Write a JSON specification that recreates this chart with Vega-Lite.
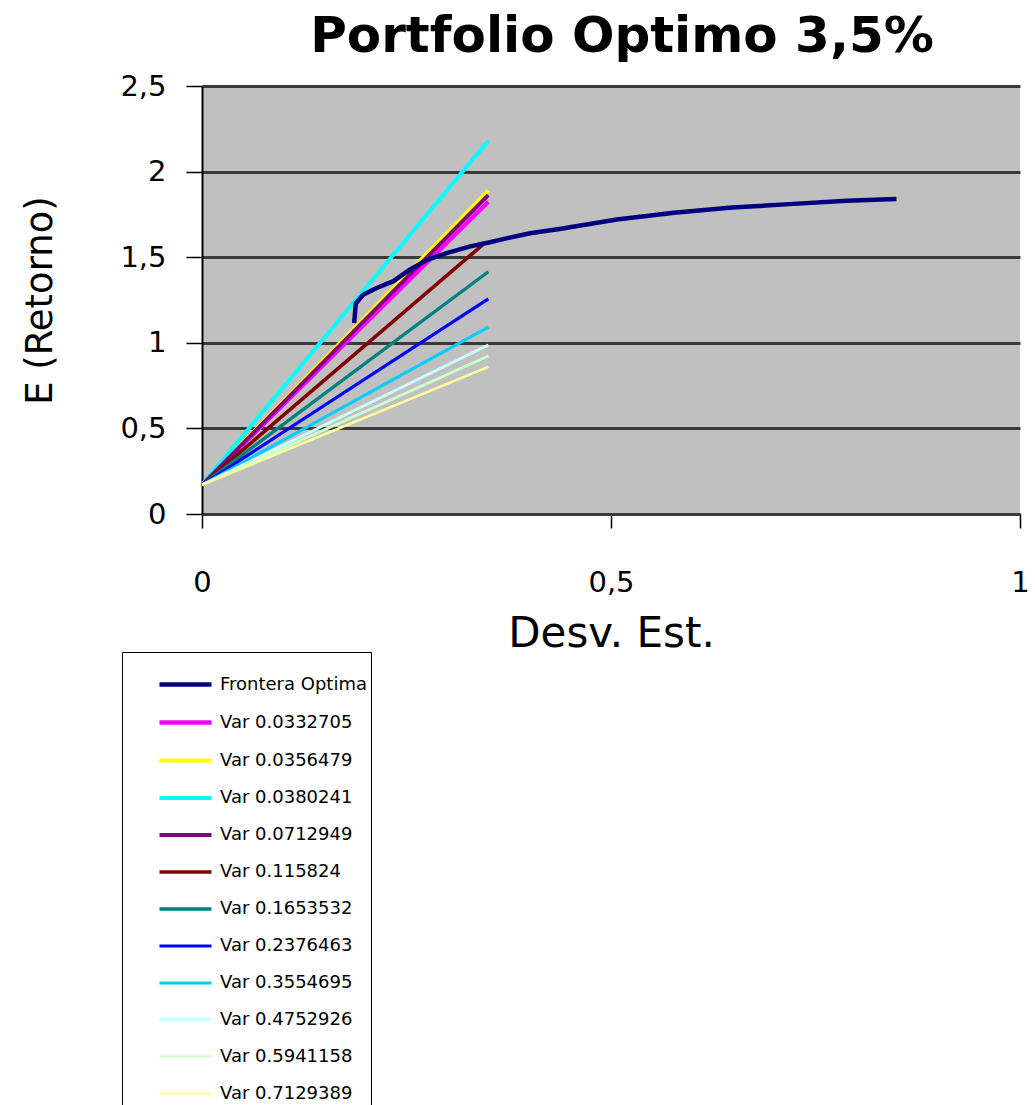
{
  "$schema": "https://vega.github.io/schema/vega-lite/v6.json",
  "width": 818,
  "height": 428,
  "autosize": {"type": "none"},
  "padding": {"left": 202, "top": 86, "right": 15, "bottom": 591},
  "background": "white",
  "title": {"text": "Portfolio Optimo 3,5%", "font": "DejaVu Sans", "fontSize": 50, "fontWeight": "bold", "color": "black", "offset": 10, "anchor": "middle", "dx": 11},
  "data": {"values": [
    {"series": "Var 0.0332705", "x": 0, "y": 0.17}, {"series": "Var 0.0332705", "x": 0.35, "y": 1.824},
    {"series": "Var 0.0356479", "x": 0, "y": 0.17}, {"series": "Var 0.0356479", "x": 0.35, "y": 1.889},
    {"series": "Var 0.0380241", "x": 0, "y": 0.17}, {"series": "Var 0.0380241", "x": 0.35, "y": 2.181},
    {"series": "Var 0.0712949", "x": 0, "y": 0.17}, {"series": "Var 0.0712949", "x": 0.35, "y": 1.863},
    {"series": "Var 0.115824", "x": 0, "y": 0.17}, {"series": "Var 0.115824", "x": 0.345, "y": 1.58},
    {"series": "Var 0.1653532", "x": 0, "y": 0.17}, {"series": "Var 0.1653532", "x": 0.35, "y": 1.415},
    {"series": "Var 0.2376463", "x": 0, "y": 0.17}, {"series": "Var 0.2376463", "x": 0.35, "y": 1.256},
    {"series": "Var 0.3554695", "x": 0, "y": 0.17}, {"series": "Var 0.3554695", "x": 0.35, "y": 1.092},
    {"series": "Var 0.4752926", "x": 0, "y": 0.17}, {"series": "Var 0.4752926", "x": 0.35, "y": 0.987},
    {"series": "Var 0.5941158", "x": 0, "y": 0.17}, {"series": "Var 0.5941158", "x": 0.35, "y": 0.923},
    {"series": "Var 0.7129389", "x": 0, "y": 0.17}, {"series": "Var 0.7129389", "x": 0.35, "y": 0.859},
    {"series": "Frontera Optima", "x": 0.186, "y": 1.115},
    {"series": "Frontera Optima", "x": 0.187, "y": 1.17},
    {"series": "Frontera Optima", "x": 0.188, "y": 1.23},
    {"series": "Frontera Optima", "x": 0.197, "y": 1.28},
    {"series": "Frontera Optima", "x": 0.2135, "y": 1.32},
    {"series": "Frontera Optima", "x": 0.234, "y": 1.36},
    {"series": "Frontera Optima", "x": 0.254, "y": 1.427},
    {"series": "Frontera Optima", "x": 0.275, "y": 1.485},
    {"series": "Frontera Optima", "x": 0.299, "y": 1.524},
    {"series": "Frontera Optima", "x": 0.328, "y": 1.563},
    {"series": "Frontera Optima", "x": 0.352, "y": 1.587},
    {"series": "Frontera Optima", "x": 0.372, "y": 1.61},
    {"series": "Frontera Optima", "x": 0.401, "y": 1.64},
    {"series": "Frontera Optima", "x": 0.437, "y": 1.665},
    {"series": "Frontera Optima", "x": 0.507, "y": 1.72},
    {"series": "Frontera Optima", "x": 0.577, "y": 1.76},
    {"series": "Frontera Optima", "x": 0.648, "y": 1.79},
    {"series": "Frontera Optima", "x": 0.718, "y": 1.81},
    {"series": "Frontera Optima", "x": 0.788, "y": 1.83},
    {"series": "Frontera Optima", "x": 0.849, "y": 1.84}
  ]},
  "mark": {"type": "line", "clip": true},
  "encoding": {
    "x": {
      "field": "x", "type": "quantitative",
      "scale": {"domain": [0, 1], "nice": false},
      "axis": {
        "values": [0, 0.5, 1], "labelExpr": "replace(format(datum.value, '~g'), '.', ',')",
        "grid": false, "tickSize": 14, "tickColor": "black", "tickWidth": 1.5,
        "domainColor": "#3a3a3a", "domainWidth": 3,
        "labelFont": "DejaVu Sans", "labelFontSize": 29, "labelColor": "black", "labelPadding": 40, "labelFlush": false,
        "title": "Desv. Est.", "titleFont": "DejaVu Sans", "titleFontSize": 42, "titleFontWeight": "normal", "titleColor": "black", "titlePadding": 16
      }
    },
    "y": {
      "field": "y", "type": "quantitative",
      "scale": {"domain": [0, 2.5], "nice": false},
      "axis": {
        "values": [0, 0.5, 1, 1.5, 2, 2.5], "labelExpr": "replace(format(datum.value, '~g'), '.', ',')",
        "grid": true, "gridColor": "#3a3a3a", "gridWidth": 3,
        "tickSize": 16, "tickColor": "black", "tickWidth": 1.5,
        "domainColor": "black", "domainWidth": 2,
        "labelFont": "DejaVu Sans", "labelFontSize": 29, "labelColor": "black", "labelPadding": 20,
        "title": "E (Retorno)", "titleFont": "DejaVu Sans", "titleFontSize": 37, "titleFontWeight": "normal", "titleColor": "black", "titlePadding": 60
      }
    },
    "color": {
      "field": "series", "type": "nominal",
      "scale": {
        "domain": ["Frontera Optima", "Var 0.0332705", "Var 0.0356479", "Var 0.0380241", "Var 0.0712949", "Var 0.115824", "Var 0.1653532", "Var 0.2376463", "Var 0.3554695", "Var 0.4752926", "Var 0.5941158", "Var 0.7129389"],
        "range": ["#000080", "#FF00FF", "#FFFF00", "#00FFFF", "#800080", "#800000", "#008080", "#0000FF", "#00CCFF", "#CCFFFF", "#CCFFCC", "#FFFF99"]
      },
      "legend": {"title": null}
    },
    "strokeWidth": {
      "field": "series", "type": "nominal",
      "scale": {
        "domain": ["Frontera Optima", "Var 0.0332705", "Var 0.0356479", "Var 0.0380241", "Var 0.0712949", "Var 0.115824", "Var 0.1653532", "Var 0.2376463", "Var 0.3554695", "Var 0.4752926", "Var 0.5941158", "Var 0.7129389"],
        "range": [4.5, 2.5, 2.5, 2.5, 2.5, 2.5, 2.5, 2.5, 2.5, 2.5, 2.5, 2.5]
      },
      "legend": {"title": null}
    }
  },
  "config": {
    "view": {"fill": "#c0c0c0", "stroke": null},
    "legend": {
      "orient": "none", "legendX": -80, "legendY": 566,
      "fillColor": "white", "strokeColor": "black", "padding": 4,
      "symbolType": "stroke", "symbolSize": 2704, "symbolOffset": 31, "labelOffset": 6,
      "labelFont": "DejaVu Sans", "labelFontSize": 18, "labelColor": "black", "rowPadding": 0, "labelLimit": 300
    }
  }
}
